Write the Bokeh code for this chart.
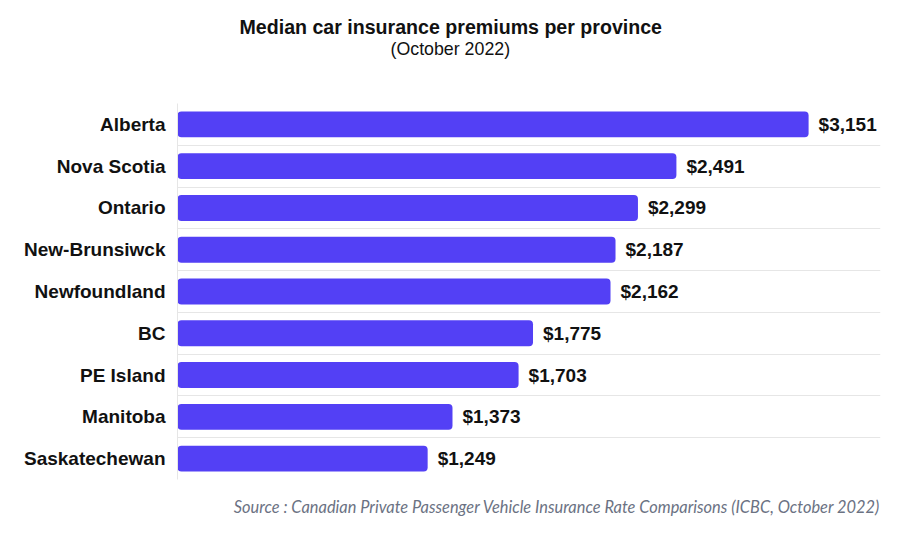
from bokeh.plotting import figure
from bokeh.models import ColumnDataSource, FixedTicker, Range1d, Title
from bokeh.core.properties import value
from bokeh.embed import file_html
from bokeh.resources import INLINE

provinces = ["Alberta", "Nova Scotia", "Ontario", "New-Brunsiwck", "Newfoundland",
             "BC", "PE Island", "Manitoba", "Saskatechewan"]
premiums = [3151, 2491, 2299, 2187, 2162, 1775, 1703, 1373, 1249]

title_text = "Median car insurance premiums per province"
subtitle_text = "(October 2022)"
source_text = "Source : Canadian Private Passenger Vehicle Insurance Rate Comparisons (ICBC, October 2022)"

n = len(provinces)
ypos = [n - i for i in range(n)]
labels = [f"${v:,}" for v in premiums]

src = ColumnDataSource(dict(y=ypos, x=premiums, name=provinces, label=labels))

FONT = "Liberation Sans"
BAR = "#5340F5"

p = figure(width=900, height=533, output_backend="svg", toolbar_location=None,
           x_range=Range1d(0, 3510), y_range=Range1d(0.5, n + 0.5),
           x_axis_location=None,
           min_border_left=177, min_border_right=20, min_border_top=103, min_border_bottom=54)
p.outline_line_color = None
p.background_fill_color = "white"
p.border_fill_color = "white"

p.hbar(y="y", right="x", left=0, height=0.62, source=src, fill_color=BAR,
       line_color=None, border_radius=4)
p.text(x="x", y="y", text="label", source=src, x_offset=10, text_baseline="middle",
       text_align="left", text_font=value(FONT), text_font_style="bold",
       text_font_size="19px", text_color="#111111")

p.xgrid.visible = False
p.ygrid.ticker = FixedTicker(ticks=[i + 0.5 for i in range(n + 1)])
p.ygrid.grid_line_color = "#e6e6e6"
p.ygrid.grid_line_width = 1

ax = p.yaxis[0]
ax.ticker = FixedTicker(ticks=ypos)
ax.major_label_overrides = {y: name for y, name in zip(ypos, provinces)}
ax.major_tick_line_color = None
ax.minor_tick_line_color = None
ax.axis_line_color = "#e6e6e6"
ax.major_label_standoff = 6
ax.major_label_text_font = FONT
ax.major_label_text_font_style = "bold"
ax.major_label_text_font_size = "19px"
ax.major_label_text_color = "#111111"

# title stack (from the frame outward): spacer, subtitle, main title
p.add_layout(Title(text=" ", text_font_size="10px", standoff=32), "above")
p.add_layout(Title(text=subtitle_text, align="left", offset=213, text_font=FONT,
                   text_font_style="normal", text_font_size="17.8px",
                   text_color="#111111", standoff=0), "above")
p.add_layout(Title(text=title_text, align="left", offset=62, text_font=FONT,
                   text_font_style="bold", text_font_size="19.6px",
                   text_color="#111111", standoff=-3), "above")

# source note below: spacer then source
p.add_layout(Title(text=" ", text_font_size="10px", standoff=2), "below")
p.add_layout(Title(text=source_text, align="right", text_font="Lato",
                   text_font_style="italic", text_font_size="16.4px",
                   text_color="#6b7283", standoff=0), "below")

open("out.html", "w").write(file_html(p, INLINE))
